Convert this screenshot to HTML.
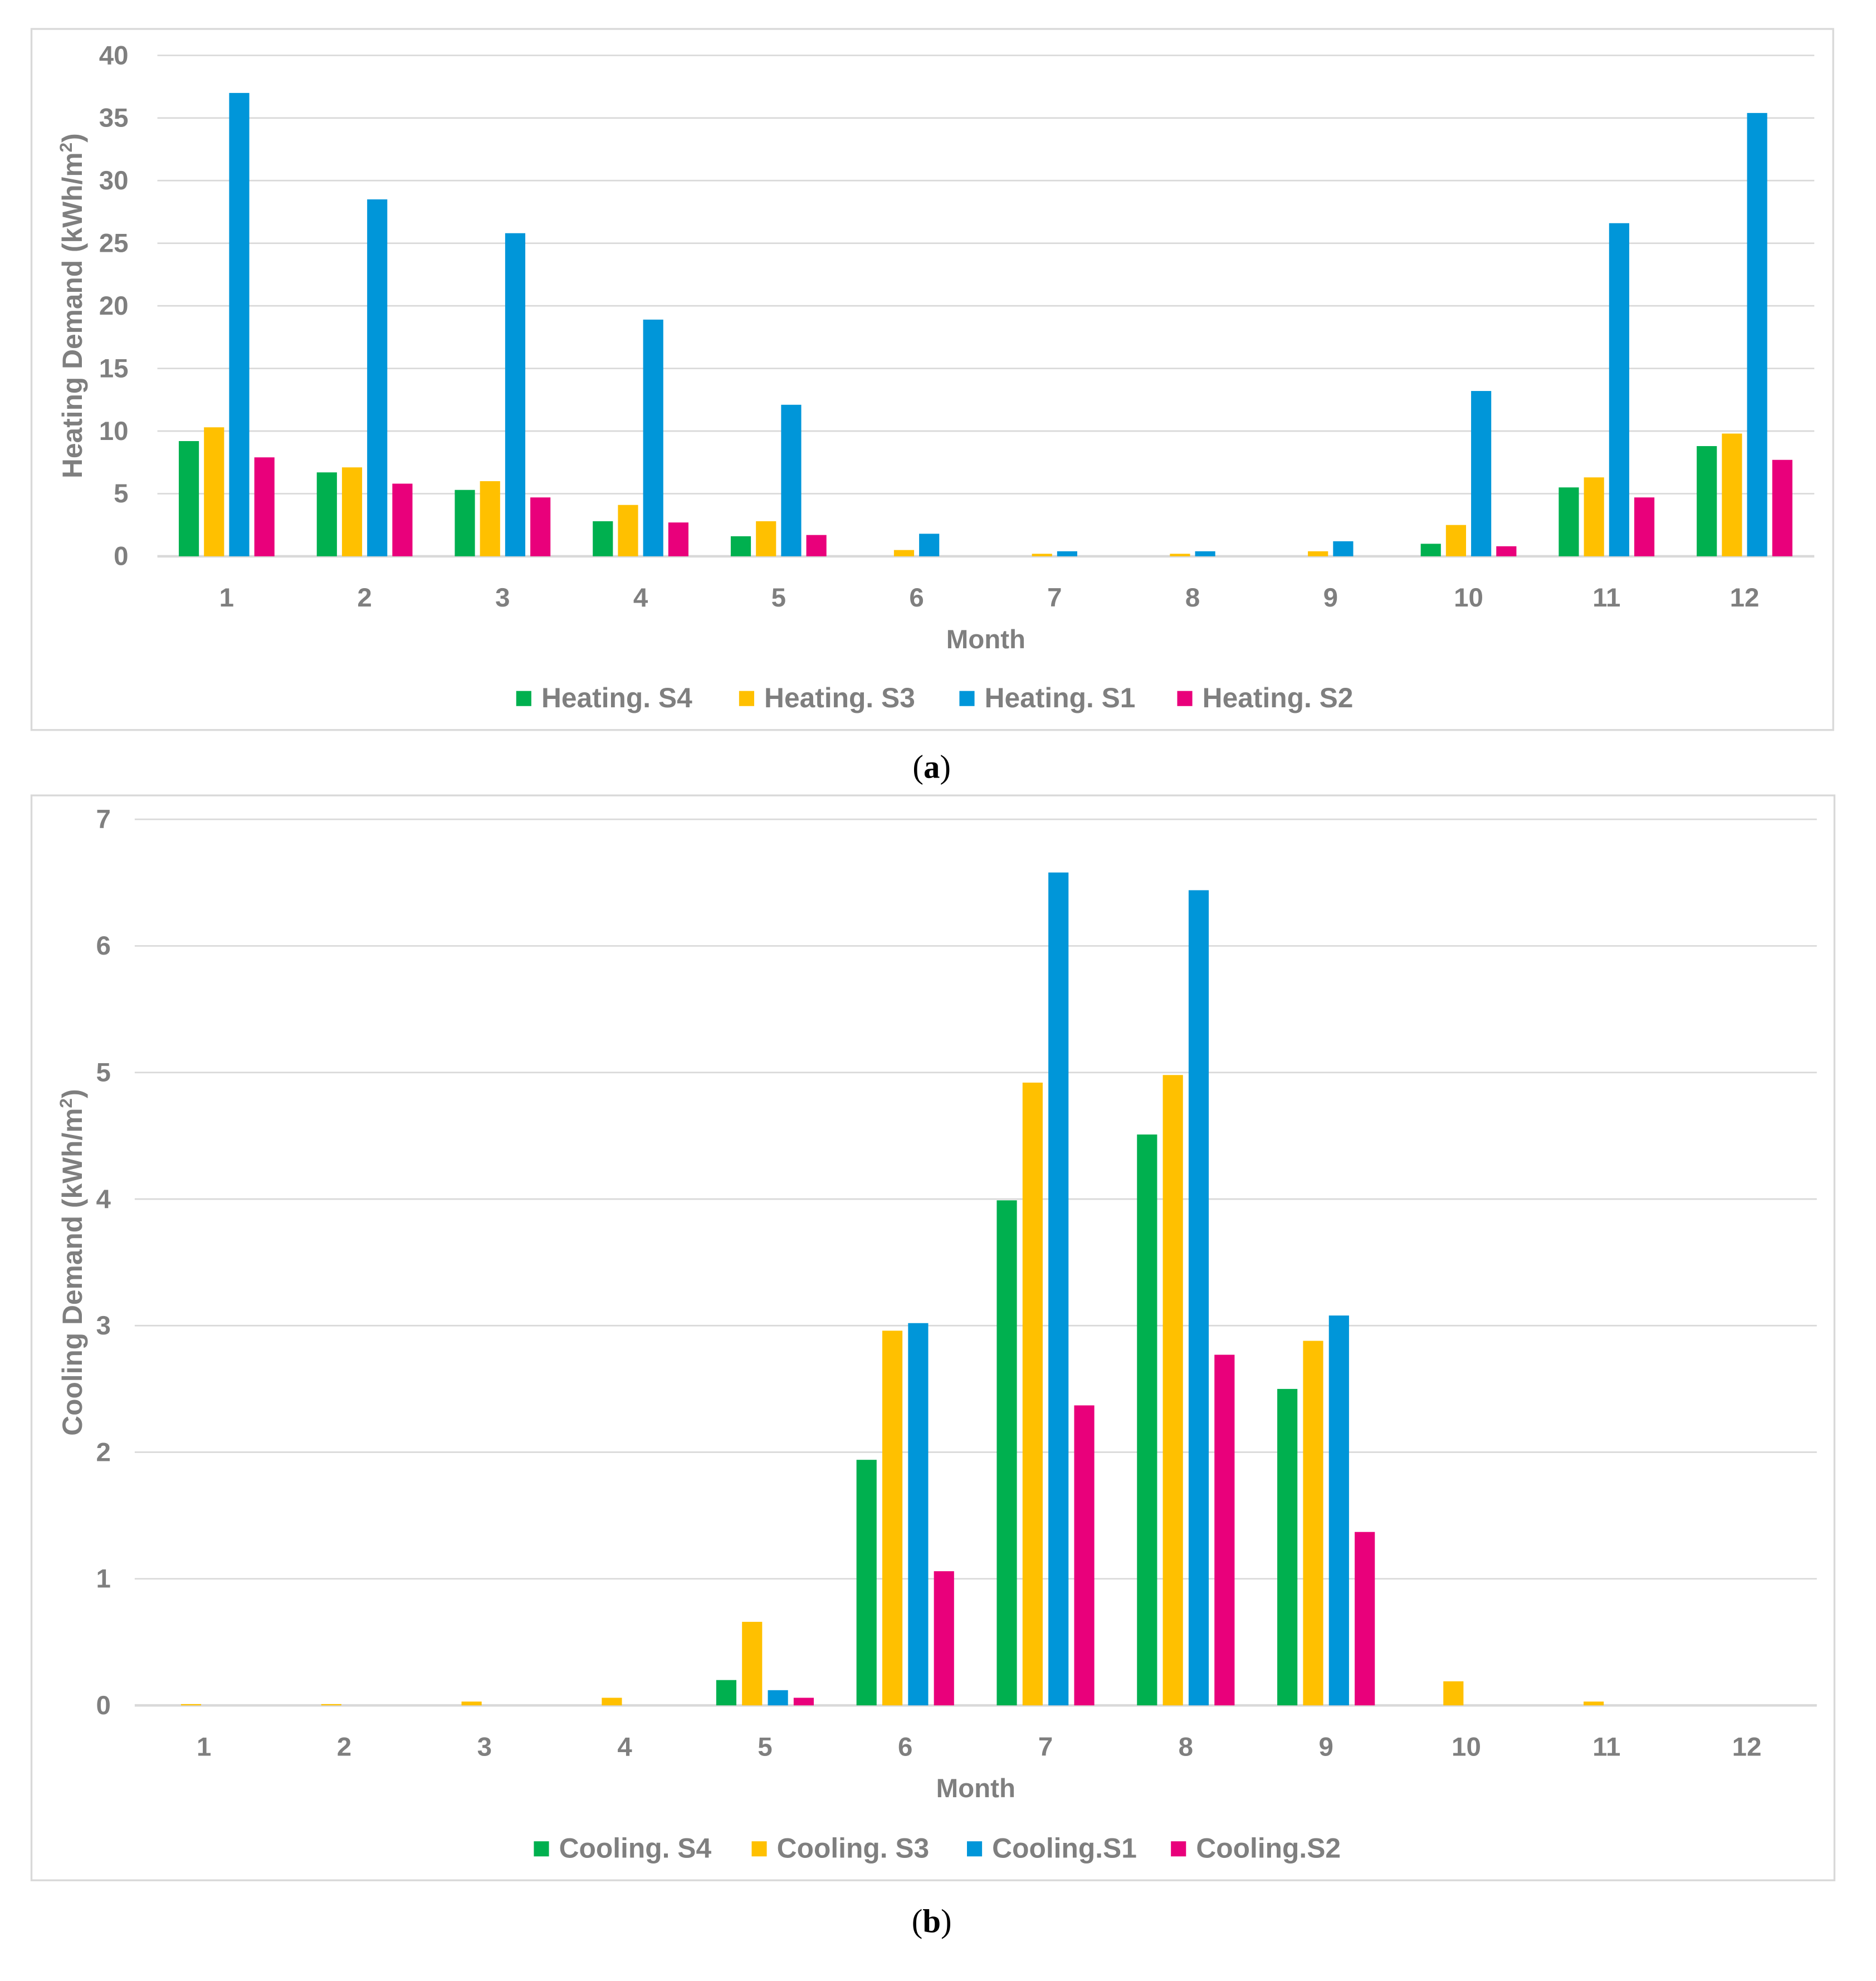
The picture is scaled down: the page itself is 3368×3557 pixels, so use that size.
<!DOCTYPE html>
<html><head><meta charset="utf-8"><style>
html,body{margin:0;padding:0;background:#fff;}
svg{display:block;}
text{font-family:"Liberation Sans",sans-serif;font-weight:bold;fill:#7f7f7f;}
</style></head><body>
<svg id="root" width="3368" height="3557" viewBox="0 0 1490 1574" preserveAspectRatio="none" xmlns="http://www.w3.org/2000/svg">
<rect x="25" y="23" width="1431" height="557" fill="#fff" stroke="#d9d9d9" stroke-width="1.5"/>
<rect x="25" y="632" width="1432" height="862" fill="#fff" stroke="#d9d9d9" stroke-width="1.5"/>
<g id="ga"></g>
<g id="gb"></g>
<text x="740" y="618" text-anchor="middle" style="font-family:'Liberation Serif',serif;fill:#000;font-weight:normal;font-size:26px">(<tspan font-weight="bold">a</tspan>)</text>
<text x="740" y="1535" text-anchor="middle" style="font-family:'Liberation Serif',serif;fill:#000;font-weight:normal;font-size:26px">(<tspan font-weight="bold">b</tspan>)</text>
</svg>
<script>
const months = [1,2,3,4,5,6,7,8,9,10,11,12];
const colors = ["#00b04f","#ffc000","#0096d9","#e9007b"];
const heatNames = ["Heating. S4","Heating. S3","Heating. S1","Heating. S2"];
const heatS4 = [9.2,6.7,5.3,2.8,1.6,0,0,0,0,1.0,5.5,8.8];
const heatS3 = [10.3,7.1,6.0,4.1,2.8,0.5,0.2,0.2,0.4,2.5,6.3,9.8];
const heatS1 = [37.0,28.5,25.8,18.9,12.1,1.8,0.4,0.4,1.2,13.2,26.6,35.4];
const heatS2 = [7.9,5.8,4.7,2.7,1.7,0,0,0,0,0.8,4.7,7.7];
const heatTicks = [0,5,10,15,20,25,30,35,40];
const coolNames = ["Cooling. S4","Cooling. S3","Cooling.S1","Cooling.S2"];
const coolS4 = [0,0,0,0,0.2,1.94,3.99,4.51,2.5,0,0,0];
const coolS3 = [0.01,0.01,0.03,0.06,0.66,2.96,4.92,4.98,2.88,0.19,0.03,0];
const coolS1 = [0,0,0,0,0.12,3.02,6.58,6.44,3.08,0,0,0];
const coolS2 = [0,0,0,0,0.06,1.06,2.37,2.77,1.37,0,0,0];
const coolTicks = [0,1,2,3,4,5,6,7];
const NS="http://www.w3.org/2000/svg";
function mk(p,tag,attrs,txt){const e=document.createElementNS(NS,tag);for(const k in attrs)e.setAttribute(k,attrs[k]);if(txt!==undefined)e.textContent=txt;p.appendChild(e);return e;}
function draw(g,cfg){
  const y=v=>cfg.y0-(v-cfg.min)/(cfg.max-cfg.min)*(cfg.y0-cfg.y1);
  const x=i=>cfg.c0+i*cfg.step;
  cfg.ticks.forEach(t=>{
    const l=mk(g,"line",{x1:cfg.left,x2:cfg.right,y1:y(t),y2:y(t),stroke:"#d9d9d9","stroke-width":t===0?2:1.2});
    
    
    const tl=mk(g,"text",{x:cfg.tickX,y:y(t)+7,"text-anchor":"end","font-size":21},String(t));
    
    
  });
  cfg.series.forEach((s,si)=>{
    s.forEach((v,i)=>{
      if(v<=0)return;
      const bx=x(i)+(si-1.5)*cfg.bstep-cfg.bw/2;
      const r=mk(g,"rect",{x:bx,y:y(v),width:cfg.bw,height:y(0)-y(v),fill:colors[si]});
      
      
    });
  });
  months.forEach((m,i)=>{
    const t=mk(g,"text",{x:x(i),y:cfg.monthY,"text-anchor":"middle","font-size":21},String(m));
    
    
  });
  const xt=mk(g,"text",{x:cfg.xtX,y:cfg.xtY,"text-anchor":"middle","font-size":21},"Month");
  
  
  const yt=mk(g,"text",{transform:`translate(${cfg.ytX},${cfg.ytY}) rotate(-90)`,"text-anchor":"middle","font-size":22},cfg.ytitle+" (kWh/m");
  mk(yt,"tspan",{"font-size":14,dy:-8},"2");
  mk(yt,"tspan",{dy:8},")");
  
  
  cfg.names.forEach((n,si)=>{
    const sq=mk(g,"rect",{x:cfg.legX[si],y:cfg.legY-13,width:12,height:12,fill:colors[si]});
    
    
    const lt=mk(g,"text",{x:cfg.legX[si]+20,y:cfg.legY,"font-size":22},n);
    
    
  });
}
draw(document.getElementById("ga"),{min:0,max:40,y0:442,y1:44,left:125,right:1441,tickX:102,c0:180,step:109.6,bw:16,bstep:20,
  ticks:heatTicks,series:[heatS4,heatS3,heatS1,heatS2],monthY:482,xtX:783,xtY:515,ytX:65,ytY:243,ytitle:"Heating Demand",
  names:heatNames,legY:562,legX:[410,587,762,935]});
draw(document.getElementById("gb"),{min:0,max:7,y0:1355,y1:651,left:107,right:1443,tickX:88,c0:162,step:111.4,bw:16,bstep:20.5,
  ticks:coolTicks,series:[coolS4,coolS3,coolS1,coolS2],monthY:1395,xtX:775,xtY:1428,ytX:65,ytY:1003,ytitle:"Cooling Demand",
  names:coolNames,legY:1476,legX:[424,597,768,930]});
</script>
</body></html>
